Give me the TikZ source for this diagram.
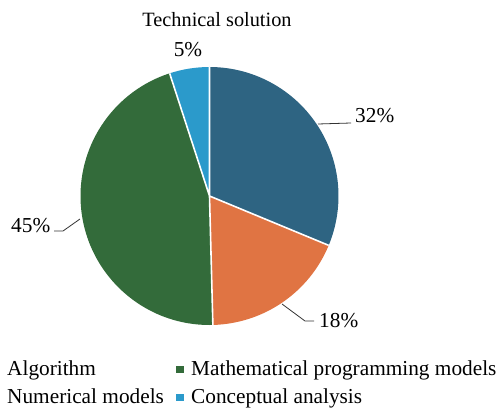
\documentclass[tikz,border=0pt]{standalone}
\usepackage{fontspec}
\setmainfont{Liberation Serif}
\definecolor{cblue}{HTML}{2E6482}
\definecolor{corange}{HTML}{E07443}
\definecolor{cgreen}{HTML}{336B3A}
\definecolor{clight}{HTML}{2B9ACB}
\begin{document}
\begin{tikzpicture}[x=1pt,y=-1pt,
  lbl/.style={font=\fontsize{21.3}{24}\selectfont,inner sep=0pt,anchor=base west},
  leader/.style={draw=black!80,line width=0.8pt},
  legmark/.style={inner sep=0pt,minimum size=7.5pt}]
\useasboundingbox (0,0) rectangle (502,409);
\coordinate (c) at (209.5,196);
\def\R{129}
% y axis points down: angles are negated
\fill[cblue] (c) -- ++(-90:\R) arc[start angle=-90,end angle=22.5,radius=\R] -- cycle;
\fill[corange] (c) -- ++(22.5:\R) arc[start angle=22.5,end angle=88.5,radius=\R] -- cycle;
\fill[cgreen] (c) -- ++(88.5:\R) arc[start angle=88.5,end angle=252,radius=\R] -- cycle;
\fill[clight] (c) -- ++(-108:\R) arc[start angle=-108,end angle=-90,radius=\R] -- cycle;
\draw[draw=white,line width=1.6pt] (c) -- ++(-90:\R) (c) -- ++(22.5:\R) (c) -- ++(88.5:\R) (c) -- ++(-108:\R);
\node[font=\fontsize{20.3}{24}\selectfont,inner sep=0pt,anchor=base] (title) at (217,27) {Technical solution};
\node[lbl,anchor=base] (p5) at (188,57) {5\%};
\node[lbl] (p32) at (355,122) {32\%};
\node[lbl] (p45) at (11,232) {45\%};
\node[lbl] (p18) at (319,327) {18\%};
\coordinate (a32) at (318,124);
\coordinate (b32) at (351,123);
\draw[leader] (a32) -- (b32);
\coordinate (a45) at (80,219);
\coordinate (b45) at (63,231);
\coordinate (c45) at (54,231);
\draw[leader] (a45) -- (b45) -- (c45);
\coordinate (a18) at (282,304);
\coordinate (b18) at (305,321);
\coordinate (c18) at (314,321);
\draw[leader] (a18) -- (b18) -- (c18);
\node[lbl] (l1) at (7,375) {Algorithm};
\node[lbl] (l2) at (7,403) {Numerical models};
\node[legmark,fill=cgreen] (m3) at (180,369.5) {};
\node[lbl] (l3) at (191,375) {Mathematical programming models};
\node[legmark,fill=clight] (m4) at (180,397.5) {};
\node[lbl] (l4) at (191,403) {Conceptual analysis};
\end{tikzpicture}
\end{document}
